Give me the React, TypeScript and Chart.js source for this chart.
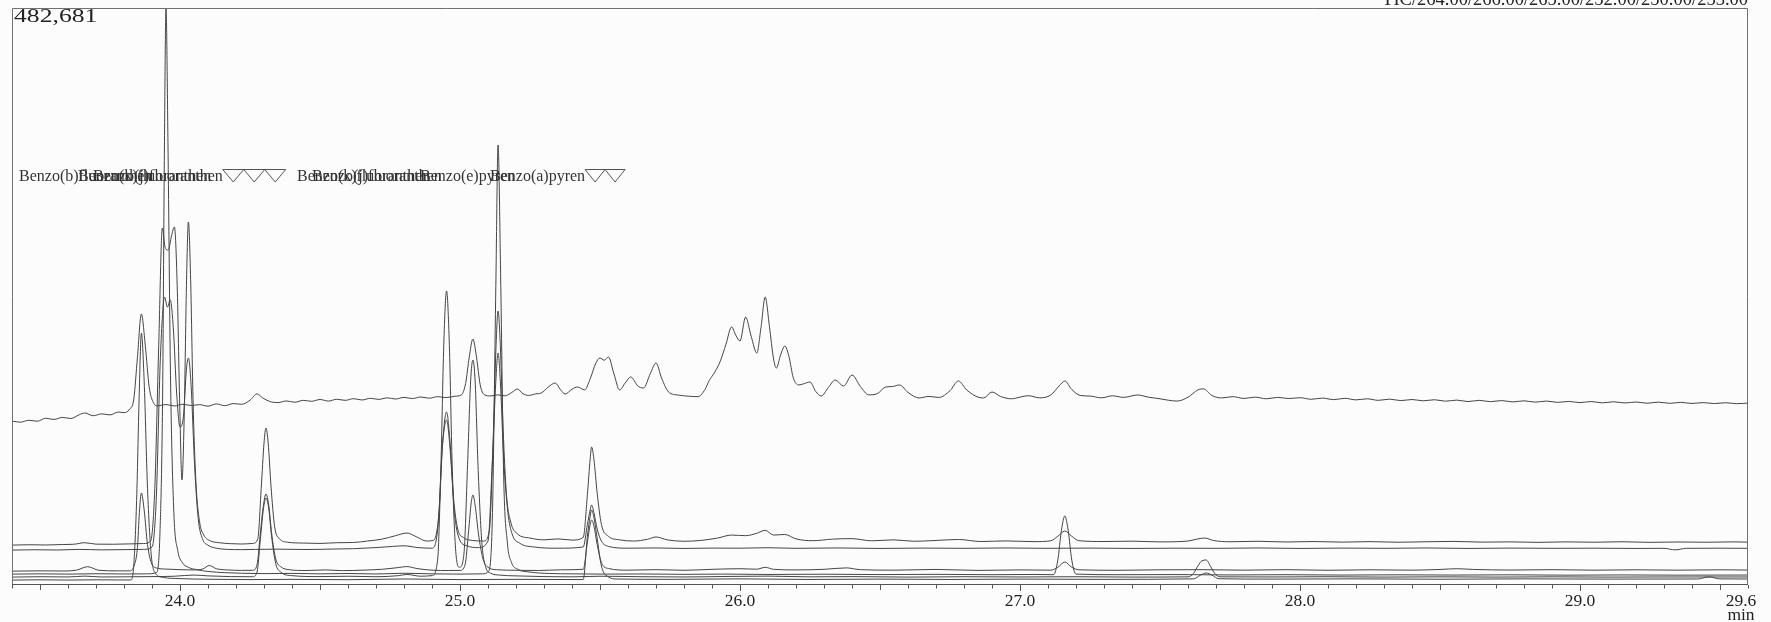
import React, { useEffect, useRef } from "react";
import { Chart, registerables } from "chart.js";

Chart.register(...registerables);

// Retention-time window (min) and full-scale intensity
const X_MIN = 23.4;
const X_MAX = 29.6;
const Y_MAX = 482681;

const xTickLabels = ["24.0", "25.0", "26.0", "27.0", "28.0", "29.0", "29.6"];
const xTickValues = [24, 25, 26, 27, 28, 29, 29.6];
const xUnit = "min";
const fullScaleLabel = "482,681";
const channelHeader = "TIC/264.00/266.00/265.00/252.00/250.00/253.00";
const peakNamesA = ["Benzo(b)fluoranthen", "Benzo(k)fluoranthen", "Benzo(j)fluoranthen"];
const peakNamesB = ["Benzo(k)fluoranthen", "Benzo(j)fluoranthen", "Benzo(e)pyren", "Benzo(a)pyren"];

type Pt = [number, number];

const tic: Pt[] = [
  [23.4, 136500], [23.43, 135600], [23.46, 137200], [23.49, 136400], [23.52, 138900], [23.55, 137900],
  [23.58, 139600], [23.61, 138700], [23.64, 141800], [23.66, 143300], [23.69, 141000], [23.72, 142600],
  [23.75, 141700], [23.78, 144100], [23.8, 143600], [23.82, 146500], [23.835, 155000], [23.848, 190000],
  [23.862, 226300], [23.876, 200000], [23.89, 165000], [23.905, 152000], [23.92, 149300], [23.95, 150400],
  [23.98, 149200], [24.01, 150600], [24.04, 149600], [24.07, 150300], [24.1, 149000], [24.13, 150900],
  [24.16, 149400], [24.19, 151200], [24.22, 150600], [24.25, 154000], [24.275, 159300], [24.295, 156000],
  [24.32, 153000], [24.35, 152000], [24.38, 153400], [24.41, 152300], [24.44, 153900], [24.47, 153100],
  [24.5, 154600], [24.53, 153300], [24.56, 154800], [24.59, 153900], [24.62, 155300], [24.65, 154200],
  [24.68, 155600], [24.71, 154700], [24.74, 156000], [24.77, 155000], [24.8, 156400], [24.83, 155400],
  [24.86, 156700], [24.89, 155700], [24.92, 157000], [24.95, 156200], [24.98, 157300], [25.005, 158500],
  [25.02, 168000], [25.033, 190000], [25.046, 205300], [25.059, 190000], [25.072, 167000], [25.087, 158600],
  [25.11, 157600], [25.135, 158500], [25.16, 157700], [25.185, 160500], [25.205, 163400], [25.225, 159400],
  [25.245, 158000], [25.27, 159300], [25.29, 160000], [25.315, 165000], [25.34, 168400], [25.36, 162500],
  [25.375, 159200], [25.4, 163200], [25.42, 165100], [25.445, 162600], [25.465, 172000], [25.485, 185000],
  [25.5, 189400], [25.515, 187500], [25.53, 190200], [25.55, 176000], [25.57, 162600], [25.59, 168500],
  [25.61, 173500], [25.635, 166000], [25.655, 164200], [25.68, 176500], [25.7, 185200], [25.72, 172500],
  [25.745, 160900], [25.78, 158300], [25.815, 157400], [25.85, 157000], [25.875, 163000], [25.89, 170500],
  [25.91, 177500], [25.93, 187000], [25.95, 201000], [25.97, 215400], [25.985, 208500], [26.0, 203600],
  [26.02, 223700], [26.04, 207500], [26.06, 193600], [26.075, 215000], [26.09, 240500], [26.105, 216000],
  [26.12, 188500], [26.13, 181000], [26.145, 192000], [26.16, 199400], [26.175, 190500], [26.19, 173000],
  [26.21, 166800], [26.23, 168000], [26.25, 169300], [26.27, 161500], [26.29, 157500], [26.315, 164500],
  [26.34, 170900], [26.37, 165900], [26.4, 175100], [26.43, 165500], [26.46, 158500], [26.49, 159500],
  [26.52, 165000], [26.545, 165500], [26.57, 166800], [26.6, 160500], [26.64, 155900], [26.675, 157200],
  [26.71, 156300], [26.75, 162000], [26.78, 170100], [26.81, 162500], [26.85, 156600], [26.87, 155900],
  [26.9, 160900], [26.93, 157200], [26.97, 155200], [27.0, 156600], [27.03, 157800], [27.07, 156000],
  [27.11, 158400], [27.14, 166000], [27.16, 170100], [27.185, 163000], [27.215, 158000], [27.25, 157500],
  [27.29, 156000], [27.33, 157700], [27.37, 156400], [27.42, 158400], [27.46, 156500], [27.5, 155200],
  [27.53, 154000], [27.56, 153300], [27.6, 156500], [27.635, 162600], [27.655, 163500], [27.685, 158000],
  [27.72, 155900], [27.76, 157000], [27.8, 155500], [27.84, 156600], [27.88, 155200], [27.92, 156400],
  [27.96, 155400], [28.0, 156100], [28.04, 154800], [28.08, 155800], [28.12, 154500], [28.16, 155600],
  [28.2, 154300], [28.24, 155200], [28.28, 153900], [28.32, 154900], [28.36, 153700], [28.4, 154600],
  [28.44, 153500], [28.48, 154400], [28.52, 153200], [28.56, 154100], [28.6, 152900], [28.64, 153900],
  [28.68, 152800], [28.72, 153700], [28.76, 152600], [28.8, 153500], [28.84, 152400], [28.88, 153300],
  [28.92, 152200], [28.96, 153000], [29.0, 152000], [29.04, 152900], [29.08, 151800], [29.12, 152700],
  [29.16, 151700], [29.2, 152500], [29.24, 151500], [29.28, 152400], [29.32, 151400], [29.36, 152200],
  [29.4, 151300], [29.44, 152000], [29.48, 151200], [29.52, 151900], [29.56, 151100], [29.6, 151600],
];

const ion252: Pt[] = [
  [23.4, 32600], [23.46, 32900], [23.52, 32700], [23.58, 33100], [23.62, 33300], [23.66, 34600],
  [23.7, 33400], [23.76, 33300], [23.82, 33600], [23.87, 33900], [23.895, 36000], [23.91, 80000],
  [23.924, 200000], [23.937, 298300], [23.948, 281000], [23.958, 279900], [23.97, 292000], [23.98, 299200],
  [23.99, 250000], [23.999, 150000], [24.007, 87200], [24.015, 140000], [24.023, 250000], [24.03, 303400],
  [24.038, 255000], [24.047, 150000], [24.057, 85000], [24.07, 52000], [24.085, 41000], [24.105, 36500],
  [24.14, 34600], [24.18, 33800], [24.22, 33500], [24.26, 34000], [24.278, 38000], [24.29, 80000],
  [24.3, 118000], [24.307, 130700], [24.315, 118000], [24.325, 82000], [24.338, 48000], [24.355, 38000],
  [24.385, 35000], [24.44, 34300], [24.5, 34000], [24.56, 34600], [24.62, 34800], [24.67, 36000],
  [24.72, 37500], [24.77, 40500], [24.81, 42700], [24.845, 39500], [24.88, 36000], [24.905, 36500],
  [24.925, 60000], [24.938, 118000], [24.952, 144100], [24.964, 120000], [24.977, 72000], [24.992, 46000],
  [25.012, 39000], [25.045, 36500], [25.085, 36000], [25.105, 45000], [25.117, 110000], [25.128, 195000],
  [25.136, 228800], [25.144, 200000], [25.154, 130000], [25.166, 75000], [25.181, 52000], [25.205, 42000],
  [25.25, 38500], [25.3, 37000], [25.35, 37800], [25.4, 36800], [25.44, 39000], [25.455, 75000],
  [25.465, 105000], [25.47, 114800], [25.478, 105000], [25.49, 76000], [25.505, 50000], [25.53, 40000],
  [25.57, 37000], [25.62, 36000], [25.67, 37500], [25.7, 39400], [25.74, 37000], [25.8, 35800],
  [25.86, 36500], [25.92, 38500], [25.97, 41000], [26.02, 40500], [26.06, 42500], [26.09, 45000],
  [26.12, 41000], [26.16, 41500], [26.2, 37800], [26.26, 36300], [26.33, 37600], [26.4, 38000],
  [26.47, 36200], [26.55, 37000], [26.62, 35800], [26.7, 36500], [26.78, 37300], [26.86, 35600],
  [26.95, 36100], [27.05, 35500], [27.11, 36200], [27.135, 40000], [27.16, 44400], [27.185, 40000],
  [27.21, 36300], [27.3, 35600], [27.4, 35900], [27.5, 35300], [27.6, 36000], [27.635, 37800],
  [27.66, 38500], [27.69, 36500], [27.75, 35400], [27.85, 35800], [27.95, 35200], [28.05, 35600],
  [28.15, 35100], [28.25, 35500], [28.35, 35000], [28.45, 35400], [28.55, 35700], [28.65, 35100],
  [28.75, 35300], [28.85, 34900], [28.95, 35300], [29.05, 35000], [29.15, 35400], [29.25, 34900],
  [29.35, 35200], [29.45, 35000], [29.55, 35300], [29.6, 35100],
];

const ion253: Pt[] = [
  [23.4, 28400], [23.48, 28700], [23.56, 28500], [23.64, 29000], [23.72, 28600], [23.8, 28800],
  [23.87, 29000], [23.9, 31000], [23.915, 70000], [23.93, 190000], [23.945, 240500], [23.955, 232000],
  [23.965, 238000], [23.976, 215000], [23.988, 160000], [24.0, 131600], [24.012, 140000], [24.023, 180000],
  [24.03, 189400], [24.04, 165000], [24.052, 100000], [24.065, 55000], [24.08, 38000], [24.1, 32500],
  [24.13, 30000], [24.17, 29000], [24.22, 28800], [24.27, 29000], [24.35, 29200], [24.45, 28900],
  [24.55, 29300], [24.62, 29600], [24.7, 30500], [24.76, 31500], [24.8, 32000], [24.85, 30500],
  [24.9, 30000], [24.922, 50000], [24.937, 115000], [24.952, 137400], [24.965, 112000], [24.98, 60000],
  [24.997, 38000], [25.025, 32000], [25.065, 30500], [25.1, 36000], [25.115, 100000], [25.128, 170000],
  [25.136, 193600], [25.144, 170000], [25.156, 105000], [25.171, 60000], [25.186, 42000], [25.215, 34000],
  [25.265, 31000], [25.35, 30000], [25.44, 31000], [25.455, 50000], [25.465, 62000], [25.47, 66200],
  [25.478, 60000], [25.49, 46000], [25.505, 36000], [25.53, 31500], [25.6, 30000], [25.7, 30200],
  [25.8, 29800], [25.9, 30100], [26.0, 30000], [26.1, 30400], [26.2, 29900], [26.35, 30200],
  [26.5, 29800], [26.65, 30100], [26.8, 29900], [26.95, 30200], [27.1, 29900], [27.25, 30100],
  [27.4, 29800], [27.55, 30000], [27.7, 29900], [27.85, 30200], [28.0, 29800], [28.15, 30100],
  [28.3, 29900], [28.45, 30200], [28.6, 29800], [28.75, 30100], [28.9, 29900], [29.05, 30000],
  [29.2, 29800], [29.3, 29900], [29.34, 28600], [29.38, 29900], [29.5, 30000], [29.6, 29900],
];

const ion250: Pt[] = [
  [23.4, 10800], [23.5, 11000], [23.58, 10900], [23.63, 11600], [23.67, 14500], [23.71, 11500],
  [23.78, 11000], [23.82, 11000], [23.835, 14800], [23.848, 30500], [23.855, 60000], [23.862, 76300],
  [23.872, 62000], [23.884, 33000], [23.898, 17500], [23.915, 13500], [23.95, 12500], [24.0, 12000],
  [24.05, 11800], [24.08, 12500], [24.105, 15500], [24.13, 12800], [24.17, 11800], [24.22, 11400],
  [24.26, 11500], [24.275, 16000], [24.288, 45000], [24.298, 66000], [24.307, 75400], [24.317, 66000],
  [24.327, 43000], [24.342, 21000], [24.36, 14500], [24.39, 12000], [24.45, 11300], [24.52, 11800],
  [24.58, 11200], [24.65, 11600], [24.72, 12300], [24.78, 13800], [24.81, 14600], [24.85, 12800],
  [24.9, 11600], [24.96, 11300], [25.0, 11400], [25.018, 16000], [25.031, 45000], [25.04, 68000],
  [25.046, 74600], [25.054, 66000], [25.066, 42000], [25.081, 22000], [25.097, 14500], [25.13, 12000],
  [25.2, 11500], [25.28, 11300], [25.36, 11900], [25.44, 12300], [25.455, 35000], [25.465, 50000],
  [25.47, 53600], [25.478, 49000], [25.49, 33000], [25.505, 18000], [25.53, 13000], [25.6, 11600],
  [25.7, 12000], [25.8, 11500], [25.9, 12300], [26.0, 12800], [26.06, 12400], [26.09, 14000],
  [26.12, 12300], [26.2, 11800], [26.3, 12300], [26.38, 13500], [26.43, 12000], [26.55, 11600],
  [26.7, 12200], [26.85, 11400], [27.0, 11800], [27.11, 11600], [27.135, 14000], [27.16, 18400],
  [27.185, 14000], [27.21, 11900], [27.35, 11500], [27.5, 11900], [27.65, 12000], [27.8, 11600],
  [27.95, 12000], [28.1, 11500], [28.25, 11900], [28.4, 11600], [28.5, 12200], [28.56, 12800],
  [28.62, 12200], [28.75, 11700], [28.9, 12000], [29.05, 11600], [29.2, 11900], [29.35, 11600],
  [29.5, 11900], [29.6, 11700],
];

const ion264: Pt[] = [
  [23.4, 8300], [23.5, 8500], [23.6, 8300], [23.7, 8600], [23.8, 8400], [23.88, 8500],
  [23.915, 9500], [23.928, 40000], [23.938, 160000], [23.944, 355000], [23.95, 482681], [23.957, 370000],
  [23.966, 175000], [23.978, 60000], [23.992, 28000], [24.008, 18000], [24.03, 14000], [24.06, 12000],
  [24.1, 10500], [24.16, 9500], [24.22, 9000], [24.3, 8700], [24.4, 8900], [24.5, 8500],
  [24.6, 8800], [24.7, 8400], [24.8, 9000], [24.9, 8500], [25.0, 8300], [25.08, 8500],
  [25.103, 11000], [25.116, 60000], [25.128, 250000], [25.136, 367900], [25.145, 260000], [25.156, 90000],
  [25.169, 35000], [25.184, 18000], [25.205, 12500], [25.25, 10000], [25.32, 8800], [25.4, 8500],
  [25.5, 8300], [25.65, 8400], [25.8, 8100], [25.95, 8300], [26.1, 8000], [26.3, 8200],
  [26.5, 7900], [26.7, 8100], [26.9, 7800], [27.05, 8000], [27.12, 7800], [27.135, 20000],
  [27.148, 45000], [27.16, 57000], [27.172, 45000], [27.185, 20000], [27.2, 8300], [27.35, 7800],
  [27.55, 7900], [27.75, 7600], [27.95, 7800], [28.15, 7500], [28.35, 7700], [28.55, 7500],
  [28.75, 7700], [28.95, 7400], [29.15, 7600], [29.35, 7400], [29.6, 7500],
];

const ion266: Pt[] = [
  [23.4, 5800], [23.5, 6100], [23.6, 5900], [23.66, 6600], [23.72, 5900], [23.8, 6000],
  [23.9, 6200], [23.98, 6500], [24.05, 7500], [24.1, 6800], [24.18, 6200], [24.26, 6100],
  [24.275, 10000], [24.288, 40000], [24.298, 63000], [24.307, 72100], [24.317, 63000], [24.327, 40000],
  [24.342, 17000], [24.36, 10000], [24.4, 7000], [24.5, 6200], [24.6, 6500], [24.7, 6100],
  [24.78, 7000], [24.81, 8000], [24.86, 6500], [24.9, 7000], [24.92, 20000], [24.932, 100000],
  [24.942, 200000], [24.952, 245500], [24.962, 200000], [24.972, 100000], [24.984, 30000], [24.998, 14000],
  [25.014, 25000], [25.027, 100000], [25.038, 170000], [25.046, 187700], [25.054, 170000], [25.065, 95000],
  [25.078, 35000], [25.092, 14000], [25.11, 9000], [25.14, 7500], [25.2, 6800], [25.3, 6200],
  [25.4, 6000], [25.5, 6500], [25.65, 6100], [25.8, 5900], [25.95, 6300], [26.1, 6600],
  [26.25, 6000], [26.4, 6200], [26.6, 5800], [26.8, 6100], [27.0, 5900], [27.2, 6100],
  [27.4, 5800], [27.6, 6000], [27.62, 9000], [27.635, 15000], [27.65, 19500], [27.665, 20100],
  [27.68, 15000], [27.695, 9000], [27.715, 6000], [27.9, 5900], [28.1, 6100], [28.3, 5800],
  [28.5, 6000], [28.7, 5800], [28.9, 6000], [29.1, 5800], [29.3, 5900], [29.6, 5900],
];

const ion265: Pt[] = [
  [23.4, 3300], [23.5, 3500], [23.6, 3300], [23.7, 3500], [23.78, 3400], [23.825, 3400],
  [23.835, 16000], [23.845, 70000], [23.855, 165000], [23.862, 210300], [23.872, 170000], [23.884, 80000],
  [23.897, 25000], [23.912, 9000], [23.94, 5500], [24.0, 4500], [24.1, 4000], [24.25, 3700],
  [24.4, 3900], [24.6, 3600], [24.8, 4200], [25.0, 3700], [25.2, 3900], [25.44, 3700],
  [25.455, 40000], [25.465, 57000], [25.47, 62000], [25.478, 56000], [25.49, 38000], [25.505, 15000],
  [25.53, 6000], [25.56, 4200], [25.75, 3900], [26.0, 4300], [26.25, 3800], [26.5, 4100],
  [26.75, 3800], [27.0, 4100], [27.3, 3900], [27.62, 4300], [27.645, 7500], [27.665, 9200],
  [27.685, 7500], [27.71, 4400], [27.9, 4100], [28.2, 4300], [28.5, 4000], [28.8, 4300],
  [29.1, 4100], [29.42, 4200], [29.46, 6000], [29.5, 4300], [29.6, 4200],
];

const traces: Pt[][] = [tic, ion264, ion266, ion265, ion252, ion250, ion253];

const SERIF = '"Liberation Serif", "DejaVu Serif", serif';

// Draws frame, time axis, header texts and the peak-name row
const decorPlugin = {
  id: "chromDecor",
  beforeDraw(chart: any) {
    const { ctx, width, height } = chart;
    ctx.save();
    ctx.fillStyle = "#fcfcfc";
    ctx.fillRect(0, 0, width, height);
    ctx.restore();
  },
  afterDraw(chart: any) {
    const { ctx, chartArea: a } = chart;
    const x = chart.scales.x;
    ctx.save();

    // frame (left, top, right)
    ctx.strokeStyle = "#707070";
    ctx.lineWidth = 1;
    ctx.beginPath();
    ctx.moveTo(a.left + 0.5, a.bottom);
    ctx.lineTo(a.left + 0.5, a.top + 0.5);
    ctx.lineTo(a.right - 0.5, a.top + 0.5);
    ctx.lineTo(a.right - 0.5, a.bottom);
    ctx.stroke();

    // time axis
    ctx.strokeStyle = "#555";
    ctx.beginPath();
    ctx.moveTo(a.left, a.bottom + 0.5);
    ctx.lineTo(a.right, a.bottom + 0.5);
    ctx.stroke();

    ctx.beginPath();
    for (let i = 0; i <= 62; i++) {
      const v = X_MIN + i * 0.1;
      const px = Math.round(x.getPixelForValue(v)) + 0.5;
      const isMajor = i % 10 === 6;
      const isHalf = i % 10 === 1;
      const len = isMajor ? 6 : isHalf ? 5 : 3.5;
      ctx.moveTo(px, a.bottom + 1);
      ctx.lineTo(px, a.bottom + 1 + len);
    }
    ctx.stroke();

    ctx.fillStyle = "#222";
    ctx.font = `17.5px ${SERIF}`;
    ctx.textAlign = "center";
    ctx.textBaseline = "middle";
    xTickValues.forEach((v, i) => {
      let px = x.getPixelForValue(v);
      if (v === X_MAX) px -= 7;
      ctx.fillText(xTickLabels[i], px, 601);
    });
    ctx.fillText(xUnit, x.getPixelForValue(X_MAX) - 7, 615);

    // full-scale value (wide print)
    ctx.save();
    ctx.textAlign = "left";
    ctx.font = `19px ${SERIF}`;
    ctx.translate(a.left + 2, 17);
    ctx.scale(1.35, 1);
    ctx.fillText(fullScaleLabel, 0, 0);
    ctx.restore();

    // channel header (partly above the page edge)
    ctx.textAlign = "right";
    ctx.textBaseline = "alphabetic";
    ctx.font = `18.5px ${SERIF}`;
    ctx.fillText(channelHeader, a.right, 5);

    // peak-name row with integration markers
    ctx.font = `16px ${SERIF}`;
    ctx.textAlign = "left";
    ctx.fillStyle = "#333";
    const rowBase = 181;
    const drawGroup = (names: string[], starts: number[], marks: number, markW: number) => {
      let end = 0;
      names.forEach((n, i) => {
        ctx.fillText(n, starts[i], rowBase);
        end = Math.max(end, starts[i] + ctx.measureText(n).width);
      });
      ctx.strokeStyle = "#555";
      ctx.beginPath();
      ctx.moveTo(end, 169.5);
      ctx.lineTo(end + marks * markW, 169.5);
      for (let k = 0; k < marks; k++) {
        const x0 = end + k * markW;
        ctx.moveTo(x0, 169.5);
        ctx.lineTo(x0 + markW / 2, 182);
        ctx.lineTo(x0 + markW, 169.5);
      }
      ctx.stroke();
    };
    drawGroup(peakNamesA, [19, 78, 93], 3, 21);
    drawGroup(peakNamesB, [297, 312, 420, 490], 2, 20);

    ctx.restore();
  },
};

export default function App() {
  const ref = useRef<HTMLCanvasElement | null>(null);

  useEffect(() => {
    if (!ref.current) return;
    const chart = new Chart(ref.current, {
      type: "line",
      data: {
        datasets: traces.map((tr) => ({
          data: tr.map(([t, v]) => ({ x: t, y: v })),
          borderColor: "#454545",
          borderWidth: 1,
          pointRadius: 0,
          fill: false,
          cubicInterpolationMode: "monotone" as const,
        })),
      },
      options: {
        animation: false,
        responsive: false,
        devicePixelRatio: 1,
        events: [],
        layout: { padding: { left: 12, right: 23, top: 8, bottom: 38 } },
        plugins: { legend: { display: false }, tooltip: { enabled: false } },
        scales: {
          x: { type: "linear", min: X_MIN, max: X_MAX, display: false },
          y: { type: "linear", min: 0, max: Y_MAX, display: false },
        },
      },
      plugins: [decorPlugin],
    });
    return () => chart.destroy();
  }, []);

  return (
    <div style={{ position: "fixed", left: 0, top: 0, width: 1771, height: 622, background: "#fcfcfc" }}>
      <canvas ref={ref} width={1771} height={622} style={{ display: "block", width: 1771, height: 622 }} />
    </div>
  );
}
